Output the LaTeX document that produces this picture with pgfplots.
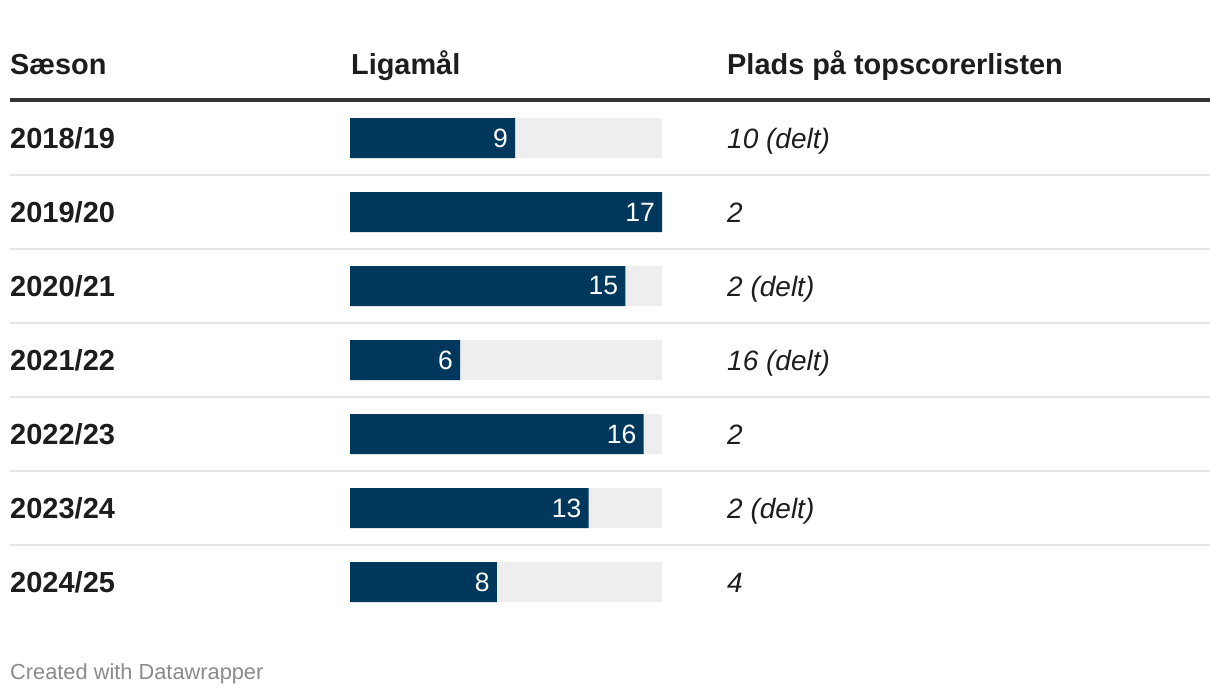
\documentclass[border=0pt]{standalone}
\usepackage{fontspec}
\setmainfont{Liberation Sans}
\usepackage{pgfplots}
\usepackage{pgfplotstable}
\pgfplotsset{compat=1.18}
\definecolor{navy}{HTML}{00375C}
\definecolor{bgbar}{HTML}{EEEEEE}
\definecolor{sep}{HTML}{E6E6E6}
\definecolor{rulec}{HTML}{333333}
\definecolor{txt}{HTML}{1D1D1D}
\definecolor{foot}{HTML}{8A8A8A}

\pgfplotstableread{
row goals
0 9
1 17
2 15
3 6
4 16
5 13
6 8
}\goals

\begin{document}
\begin{tikzpicture}
\begin{axis}[
 x=18.3529pt, y=74pt,
 xmin=-19.0705, xmax=47.4039, ymin=-1.8649, ymax=7.5135,
 y dir=reverse, hide axis, clip=false,
 xbar, bar width=40pt, bar shift=0pt,
 /pgf/number format/assume math mode=true,
]
\path (rel axis cs:0,0) rectangle (rel axis cs:1,1);
\addplot[fill=bgbar, draw=none] coordinates {(17,0) (17,1) (17,2) (17,3) (17,4) (17,5) (17,6)};
\addplot[fill=navy, draw=none, point meta=x, nodes near coords,
  nodes near coords style={anchor=east, xshift=-7pt, inner sep=0pt, text=white, font=\fontsize{26.5}{30}\selectfont}]
  table[x=goals,y=row]{\goals};

\draw[rulec, line width=3.5pt] (axis cs:-18.526,-0.5135) -- (axis cs:46.859,-0.5135);
\draw[sep, line width=1.5pt] (axis cs:-18.526,0.5) -- (axis cs:46.859,0.5);
\draw[sep, line width=1.5pt] (axis cs:-18.526,1.5) -- (axis cs:46.859,1.5);
\draw[sep, line width=1.5pt] (axis cs:-18.526,2.5) -- (axis cs:46.859,2.5);
\draw[sep, line width=1.5pt] (axis cs:-18.526,3.5) -- (axis cs:46.859,3.5);
\draw[sep, line width=1.5pt] (axis cs:-18.526,4.5) -- (axis cs:46.859,4.5);
\draw[sep, line width=1.5pt] (axis cs:-18.526,5.5) -- (axis cs:46.859,5.5);

\node[anchor=base west, inner sep=0pt, text=txt, font=\fontsize{28.9}{34}\selectfont\bfseries] at (axis cs:-18.526,-0.861) {Sæson};
\node[anchor=base west, inner sep=0pt, text=txt, font=\fontsize{28.9}{34}\selectfont\bfseries] at (axis cs:0.05,-0.861) {Ligamål};
\node[anchor=base west, inner sep=0pt, text=txt, font=\fontsize{28.9}{34}\selectfont\bfseries] at (axis cs:20.542,-0.861) {Plads på topscorerlisten};

\node[anchor=base west, inner sep=0pt, text=txt, font=\fontsize{29}{32}\selectfont\bfseries] at (axis cs:-18.526,0.139) {2018/19};
\node[anchor=base west, inner sep=0pt, text=txt, font=\fontsize{29}{32}\selectfont\bfseries] at (axis cs:-18.526,1.139) {2019/20};
\node[anchor=base west, inner sep=0pt, text=txt, font=\fontsize{29}{32}\selectfont\bfseries] at (axis cs:-18.526,2.139) {2020/21};
\node[anchor=base west, inner sep=0pt, text=txt, font=\fontsize{29}{32}\selectfont\bfseries] at (axis cs:-18.526,3.139) {2021/22};
\node[anchor=base west, inner sep=0pt, text=txt, font=\fontsize{29}{32}\selectfont\bfseries] at (axis cs:-18.526,4.139) {2022/23};
\node[anchor=base west, inner sep=0pt, text=txt, font=\fontsize{29}{32}\selectfont\bfseries] at (axis cs:-18.526,5.139) {2023/24};
\node[anchor=base west, inner sep=0pt, text=txt, font=\fontsize{29}{32}\selectfont\bfseries] at (axis cs:-18.526,6.139) {2024/25};

\node[anchor=base west, inner sep=0pt, text=txt, font=\fontsize{28}{32}\selectfont\itshape] at (axis cs:20.542,0.139) {10 (delt)};
\node[anchor=base west, inner sep=0pt, text=txt, font=\fontsize{28}{32}\selectfont\itshape] at (axis cs:20.542,1.139) {2};
\node[anchor=base west, inner sep=0pt, text=txt, font=\fontsize{28}{32}\selectfont\itshape] at (axis cs:20.542,2.139) {2 (delt)};
\node[anchor=base west, inner sep=0pt, text=txt, font=\fontsize{28}{32}\selectfont\itshape] at (axis cs:20.542,3.139) {16 (delt)};
\node[anchor=base west, inner sep=0pt, text=txt, font=\fontsize{28}{32}\selectfont\itshape] at (axis cs:20.542,4.139) {2};
\node[anchor=base west, inner sep=0pt, text=txt, font=\fontsize{28}{32}\selectfont\itshape] at (axis cs:20.542,5.139) {2 (delt)};
\node[anchor=base west, inner sep=0pt, text=txt, font=\fontsize{28}{32}\selectfont\itshape] at (axis cs:20.542,6.139) {4};

\node[anchor=base west, inner sep=0pt, text=foot, font=\fontsize{21.8}{26}\selectfont] at (axis cs:-18.526,7.324) {Created with Datawrapper};
\end{axis}
\end{tikzpicture}
\end{document}
